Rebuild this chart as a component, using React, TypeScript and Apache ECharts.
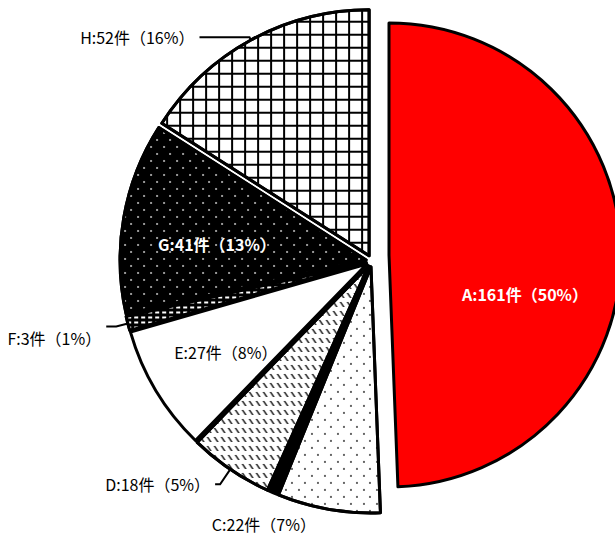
import React, { useEffect, useRef } from 'react';
import * as echarts from 'echarts';

// ---- data ----
const categories = ['A', 'C', 'B', 'D', 'E', 'F', 'G', 'H'];
const values = [161, 22, 2, 18, 27, 3, 41, 52];
const percentLabels = ['50%', '7%', '', '5%', '8%', '1%', '13%', '16%'];

export default function App() {
  const ref = useRef<HTMLDivElement>(null);

  useEffect(() => {
    if (!ref.current) return;
    const chart = echarts.init(ref.current, null, { renderer: 'svg' });
    const font = '"Noto Sans CJK JP", "Noto Sans", sans-serif';

    const dots = (color: string) => ({
      symbol: 'rect',
      symbolSize: 0.8,
      color,
      dashArrayX: [[2, 11], [0, 6, 2, 5]],
      dashArrayY: [2, 5],
    });
    const hatch = {
      symbol: 'path://M0 0L1.6 0L5 5L3.4 5Z',
      symbolSize: 1,
      color: '#000',
      dashArrayX: [5, 2],
      dashArrayY: [5, 4],
    };
    const grid = {
      symbol: 'rect',
      symbolSize: 1,
      color: '#000',
      dashArrayX: [[13, 0], [2, 11]],
      dashArrayY: [2, 0, 11, 0],
    };
    const dashes = {
      symbol: 'rect',
      symbolSize: 1,
      color: '#fff',
      dashArrayX: [4, 3],
      dashArrayY: [2, 3],
    };

    const sliceStyle: Record<string, any> = {
      A: { color: '#ff0000' },
      B: { color: '#000' },
      C: { color: '#fff', decal: dots('#000') },
      D: { color: '#fff', decal: hatch },
      E: { color: '#fff' },
      F: { color: '#000', decal: dashes },
      G: { color: '#000', decal: dots('#fff') },
      H: { color: '#fff', decal: grid },
    };

    const labelCfg: Record<string, any> = {
      B: { label: { show: false }, labelLine: { show: false } },
      C: { label: { position: 'outside' }, labelLine: { show: false, length: 15, length2: 5 } },
      D: { label: { position: 'outside' }, labelLine: { show: true, length: 18, length2: 5 } },
      E: { label: { position: 'inside', color: '#000' }, labelLine: { show: false } },
      F: { label: { position: 'outside' }, labelLine: { show: true, length: 12, length2: 10 } },
      G: { label: { position: 'inside', color: '#fff', fontWeight: 'bold' }, labelLine: { show: false } },
      H: { label: { position: 'outside' }, labelLine: { show: true, length: 3, length2: 50 } },
    };

    const fmt = (p: any) => `${p.name}:${p.value}件（${percentLabels[p.dataIndex]}）`;

    const mainData = categories.map((name, i) => {
      if (name === 'A') {
        return {
          name,
          value: values[i],
          itemStyle: { color: 'transparent', borderWidth: 0 },
          label: { show: false },
          labelLine: { show: false },
        };
      }
      return {
        name,
        value: values[i],
        selected: true,
        itemStyle: { ...sliceStyle[name], borderColor: '#000', borderWidth: 3 },
        ...labelCfg[name],
      };
    });

    const aData = categories.map((name, i) => {
      if (name === 'A') {
        return {
          name,
          value: values[i],
          itemStyle: { ...sliceStyle.A, borderColor: '#000', borderWidth: 3 },
          label: { show: true, position: 'inside', color: '#fff', fontWeight: 'bold' },
          labelLine: { show: false },
        };
      }
      return {
        name,
        value: values[i],
        itemStyle: { color: 'transparent', borderWidth: 0 },
        label: { show: false },
        labelLine: { show: false },
      };
    });

    const labelShift: Record<string, number[]> = {
      A: [17, 41],
      E: [-33, 23],
      G: [-25, 6],
      F: [0, 12],
    };

    const option: any = {
      animation: false,
      backgroundColor: '#fff',
      series: [
        {
          type: 'pie',
          silent: true,
          center: [389, 255],
          radius: 232,
          startAngle: 90,
          clockwise: true,
          avoidLabelOverlap: false,
          emphasis: { disabled: true },
          label: {
            formatter: fmt,
            fontFamily: font,
            fontSize: 16,
          },
          labelLayout: (p: any) => {
            const s = labelShift[categories[p.dataIndex]];
            return categories[p.dataIndex] === 'A' && s ? { dx: s[0], dy: s[1] } : {};
          },
          data: aData,
        },
        {
          type: 'pie',
          silent: true,
          center: [372, 261],
          radius: 246,
          startAngle: 90,
          clockwise: true,
          selectedMode: 'multiple',
          selectedOffset: 6,
          avoidLabelOverlap: false,
          emphasis: { disabled: true },
          select: { itemStyle: { borderColor: '#000' } },
          label: {
            formatter: fmt,
            fontFamily: font,
            fontSize: 16,
            color: '#000',
          },
          labelLine: { lineStyle: { color: '#000', width: 2 } },
          labelLayout: (p: any) => {
            const n = categories[p.dataIndex];
            const s = labelShift[n];
            return n !== 'A' && s ? { dx: s[0], dy: s[1] } : {};
          },
          data: mainData,
        },
      ],
    };

    chart.setOption(option);
    return () => chart.dispose();
  }, []);

  return (
    <div
      ref={ref}
      style={{ position: 'fixed', left: 0, top: 0, width: 615, height: 537 }}
    />
  );
}
